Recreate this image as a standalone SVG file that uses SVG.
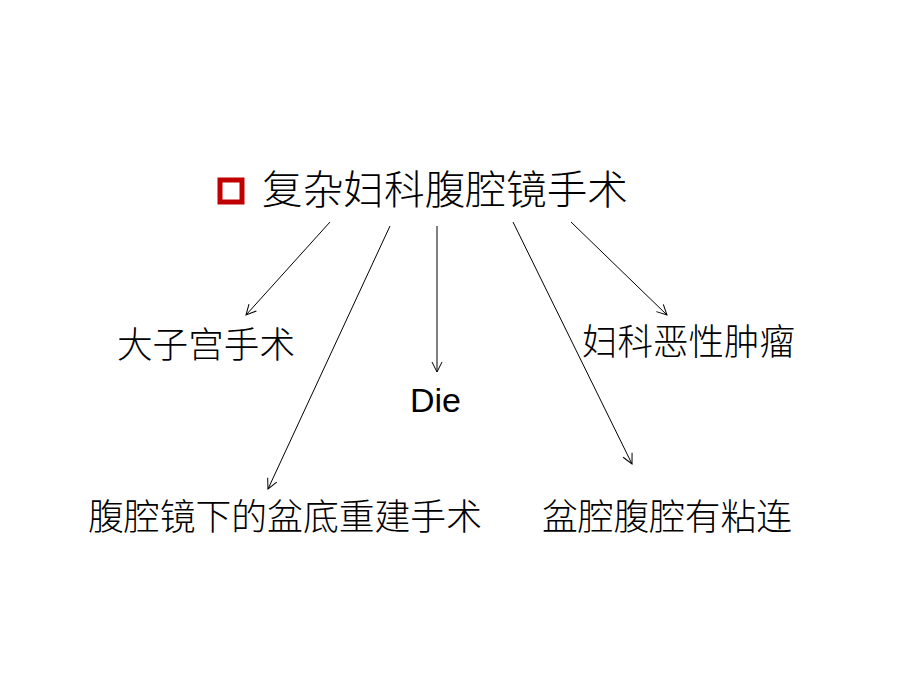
<svg xmlns="http://www.w3.org/2000/svg" width="920" height="690" viewBox="0 0 920 690">
<defs>
<style>
.cjk{font-family:"Noto Sans CJK SC","Liberation Sans",sans-serif;fill:#000;font-weight:300}
.lat{font-family:"Liberation Sans",Arial,sans-serif;fill:#000}
.conn line{stroke:#000;stroke-width:1;fill:none;marker-end:url(#arr)}
</style>
<marker id="arr" viewBox="0 0 12 12" refX="11" refY="6" markerWidth="12" markerHeight="12" markerUnits="userSpaceOnUse" orient="auto">
<path d="M1,1 L11,6 L1,11" fill="none" stroke="#000" stroke-width="1"/>
</marker>
</defs>
<rect width="920" height="690" fill="#fff"/>
<g id="title">
<rect x="220" y="180" width="22" height="22" fill="none" stroke="#c00000" stroke-width="5"/>
<text class="cjk" x="262" y="204" font-size="40" textLength="366" lengthAdjust="spacingAndGlyphs">复杂妇科腹腔镜手术</text>
</g>
<g id="n1"><text class="cjk" x="117" y="358" font-size="36" textLength="178" lengthAdjust="spacingAndGlyphs">大子宫手术</text></g>
<g id="n2"><text class="cjk" x="582" y="355" font-size="36" textLength="213" lengthAdjust="spacingAndGlyphs">妇科恶性肿瘤</text></g>
<g id="n3"><text class="lat" x="410" y="412" font-size="34">Die</text></g>
<g id="n4"><text class="cjk" x="88" y="530" font-size="36" textLength="394" lengthAdjust="spacingAndGlyphs">腹腔镜下的盆底重建手术</text></g>
<g id="n5"><text class="cjk" x="542" y="530" font-size="36" textLength="250" lengthAdjust="spacingAndGlyphs">盆腔腹腔有粘连</text></g>
<g class="conn" id="connectors">
<line x1="330" y1="222" x2="246" y2="315"/>
<line x1="390" y1="226" x2="268" y2="489"/>
<line x1="437" y1="226" x2="437" y2="372"/>
<line x1="513" y1="222" x2="632" y2="464"/>
<line x1="571" y1="222" x2="667" y2="315"/>
</g>
</svg>
